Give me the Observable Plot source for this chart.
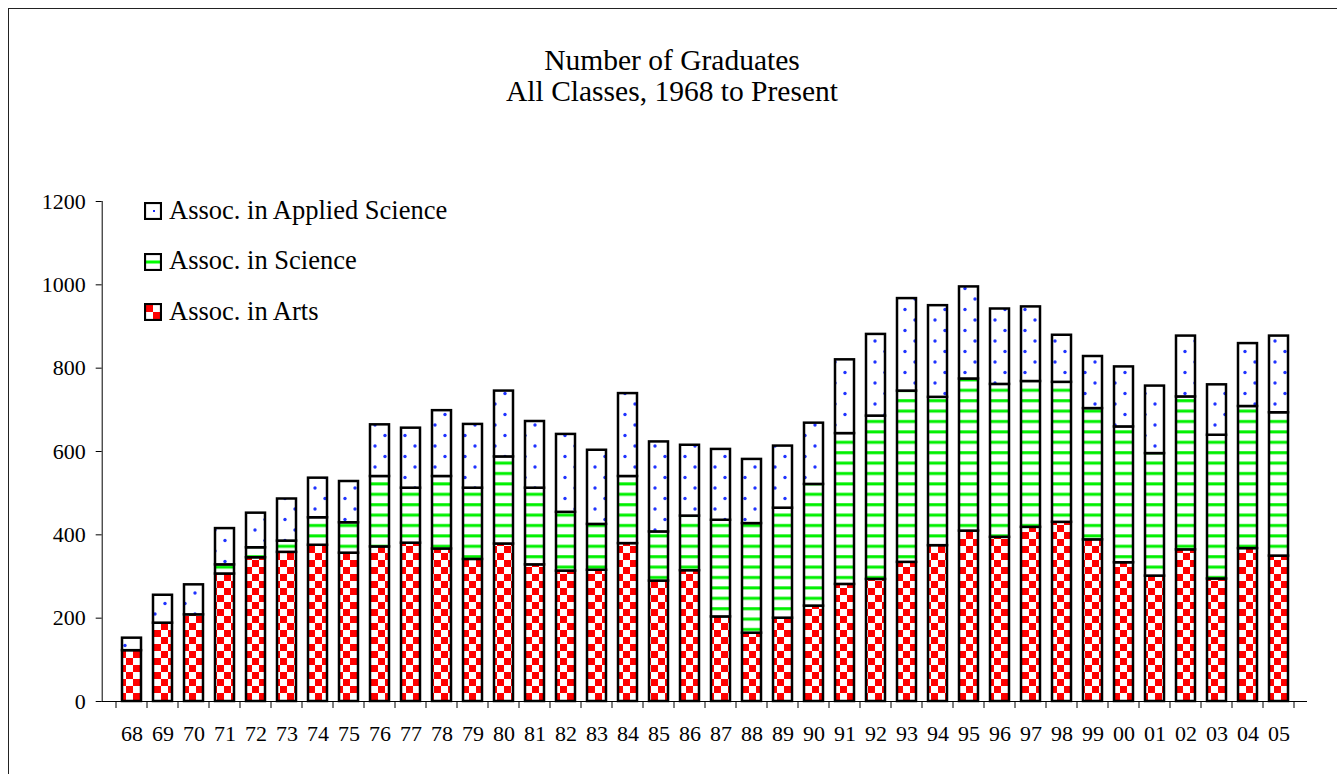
<!DOCTYPE html>
<html>
<head>
<meta charset="utf-8">
<script src="https://cdn.jsdelivr.net/npm/d3@7"></script>
<script src="https://cdn.jsdelivr.net/npm/@observablehq/plot@0.6"></script>
<style>
  html, body { margin: 0; padding: 0; background: #fff; overflow: hidden; }
  #page { position: relative; width: 1337px; height: 774px; overflow: hidden; font-family: "Liberation Serif", "Times New Roman", serif; color: #000; }
  #frame { position: absolute; left: 8px; top: 8px; width: 1400px; height: 800px; border: 1.5px solid #222; box-sizing: border-box; }
  #chart { position: absolute; left: 0; top: 0; }
  .title { position: absolute; left: 0; width: 1344px; text-align: center; font-size: 29.5px; line-height: 31px; white-space: nowrap; }
  .legend-item { position: absolute; left: 144px; height: 30px; }
  .legend-item svg { position: absolute; left: 0; }
  .legend-item span { position: absolute; left: 25px; font-size: 26.5px; line-height: 29px; white-space: nowrap; }
</style>
</head>
<body>
<div id="page">
  <div id="frame"></div>
  <div id="chart"></div>
  <div class="title" style="top:45px">Number of Graduates</div>
  <div class="title" style="top:76px">All Classes, 1968 to Present</div>
  <div id="legend"></div>
</div>
<script>
// ---- data ----
const years = ["68","69","70","71","72","73","74","75","76","77","78","79","80","81","82","83","84","85","86","87","88","89","90","91","92","93","94","95","96","97","98","99","00","01","02","03","04","05"];
const arts = [122,188,208,306,345,358,375,356,371,380,366,341,378,328,313,315,379,289,314,203,164,200,229,281,293,334,374,409,394,418,430,388,333,301,364,294,367,349];
const science = [0,0,0,22,24,27,66,73,169,132,174,171,209,184,141,110,161,118,131,232,263,264,292,362,392,411,356,365,367,350,336,315,326,294,367,345,341,344];
const applied = [30,67,72,87,83,101,95,99,124,144,158,153,158,160,187,178,199,216,170,170,154,149,147,177,196,222,220,221,181,179,113,125,144,162,146,121,151,184];
const seriesNames = ["Assoc. in Arts", "Assoc. in Science", "Assoc. in Applied Science"];
const legendOrder = ["Assoc. in Applied Science", "Assoc. in Science", "Assoc. in Arts"];
const yTicks = [0, 200, 400, 600, 800, 1000, 1200];

const seriesValues = [arts, science, applied];
const patternIds = ["pat-arts", "pat-sci", "pat-app"];

const data = [];
years.forEach((yr, i) => {
  seriesNames.forEach((s, k) => {
    const v = seriesValues[k][i];
    if (v > 0) data.push({year: yr, series: s, value: v});
  });
});

const plot = Plot.plot({
  width: 1337,
  height: 774,
  marginLeft: 101.7,
  marginRight: 30,
  marginTop: 201,
  marginBottom: 73,
  style: {fontFamily: "Liberation Serif, Times New Roman, serif", fontSize: "22px", color: "#000", background: "transparent"},
  x: {domain: years, paddingInner: 0.4, paddingOuter: 0.2, tickSize: 0, tickPadding: 23.5, label: null},
  y: {domain: [0, 1200], ticks: yTicks, tickSize: 6, tickPadding: 10.5, tickFormat: d => String(d), label: null, line: true},
  color: {domain: seriesNames, range: patternIds.map(id => `url(#${id})`)},
  marks: [
    Plot.barY(data, Plot.stackY({x: "year", y: "value", fill: "series", order: seriesNames, stroke: "#000", strokeWidth: 2.5})),
    Plot.ruleY([0], {stroke: "#000", strokeWidth: 1})
  ]
});

// pattern definitions
const svg = d3.select(plot);
const defs = svg.insert("defs", ":first-child");
function addPatterns(defs, prefix) {
  // red/white checker
  const c = defs.append("pattern").attr("id", prefix + "arts").attr("patternUnits", "userSpaceOnUse")
    .attr("width", 14).attr("height", 14);
  c.append("rect").attr("width", 14).attr("height", 14).attr("fill", "#fff");
  c.append("rect").attr("x", 0).attr("y", 0).attr("width", 7).attr("height", 7).attr("fill", "#ff0000");
  c.append("rect").attr("x", 7).attr("y", 7).attr("width", 7).attr("height", 7).attr("fill", "#ff0000");
  // horizontal green lines
  const s = defs.append("pattern").attr("id", prefix + "sci").attr("patternUnits", "userSpaceOnUse")
    .attr("width", 10).attr("height", 10.4);
  s.append("rect").attr("width", 10).attr("height", 10.4).attr("fill", "#fff");
  s.append("rect").attr("x", 0).attr("y", 4).attr("width", 10).attr("height", 3).attr("fill", "#00f000");
  // sparse blue dots
  const a = defs.append("pattern").attr("id", prefix + "app").attr("patternUnits", "userSpaceOnUse")
    .attr("width", 20).attr("height", 21);
  a.append("rect").attr("width", 20).attr("height", 21).attr("fill", "#fff");
  a.append("circle").attr("cx", 15).attr("cy", 5).attr("r", 1.7).attr("fill", "#1f33ff");
  a.append("circle").attr("cx", 5).attr("cy", 15.5).attr("r", 1.7).attr("fill", "#1f33ff");
}
addPatterns(defs, "pat-");

// x-axis tick marks between categories
const xs = plot.scale("x");
const ys = plot.scale("y");
const y0 = ys.apply(0);
const gap = (xs.step - xs.bandwidth) / 2;
const bounds = years.map(d => xs.apply(d) - gap);
bounds.push(xs.apply(years[years.length - 1]) + xs.bandwidth + gap);
const tg = svg.append("g").attr("stroke", "#000").attr("stroke-width", 1);
bounds.forEach(b => {
  tg.append("line").attr("x1", b).attr("x2", b).attr("y1", y0).attr("y2", y0 + 7);
});

document.getElementById("chart").appendChild(plot);

// legend
const legend = document.getElementById("legend");
const swatchIds = {"Assoc. in Arts": "arts", "Assoc. in Science": "sci", "Assoc. in Applied Science": "app"};
legendOrder.forEach((name, i) => {
  const item = document.createElement("div");
  item.className = "legend-item";
  item.style.top = (202 + i * 50.5) + "px";
  const sw = d3.create("svg").attr("width", 18).attr("height", 18).style("top", "0px");
  const kind = swatchIds[name];
  sw.append("rect").attr("x", 1).attr("y", 1).attr("width", 16).attr("height", 16).attr("fill", "#fff");
  if (kind === "arts") {
    sw.append("rect").attr("x", 2).attr("y", 2).attr("width", 7).attr("height", 7).attr("fill", "#ff0000");
    sw.append("rect").attr("x", 9).attr("y", 9).attr("width", 7).attr("height", 7).attr("fill", "#ff0000");
  } else if (kind === "sci") {
    sw.append("rect").attr("x", 2).attr("y", 7.5).attr("width", 14).attr("height", 3).attr("fill", "#00ff00");
  } else {
    sw.append("rect").attr("x", 9).attr("y", 8).attr("width", 2).attr("height", 2).attr("fill", "#1a2cff");
  }
  sw.append("rect").attr("x", 1).attr("y", 1).attr("width", 16).attr("height", 16).attr("fill", "none").attr("stroke", "#000").attr("stroke-width", 2.2);
  item.appendChild(sw.node());
  const t = document.createElement("span");
  t.textContent = name;
  t.style.top = "-6.5px";
  item.appendChild(t);
  legend.appendChild(item);
});
</script>
</body>
</html>
